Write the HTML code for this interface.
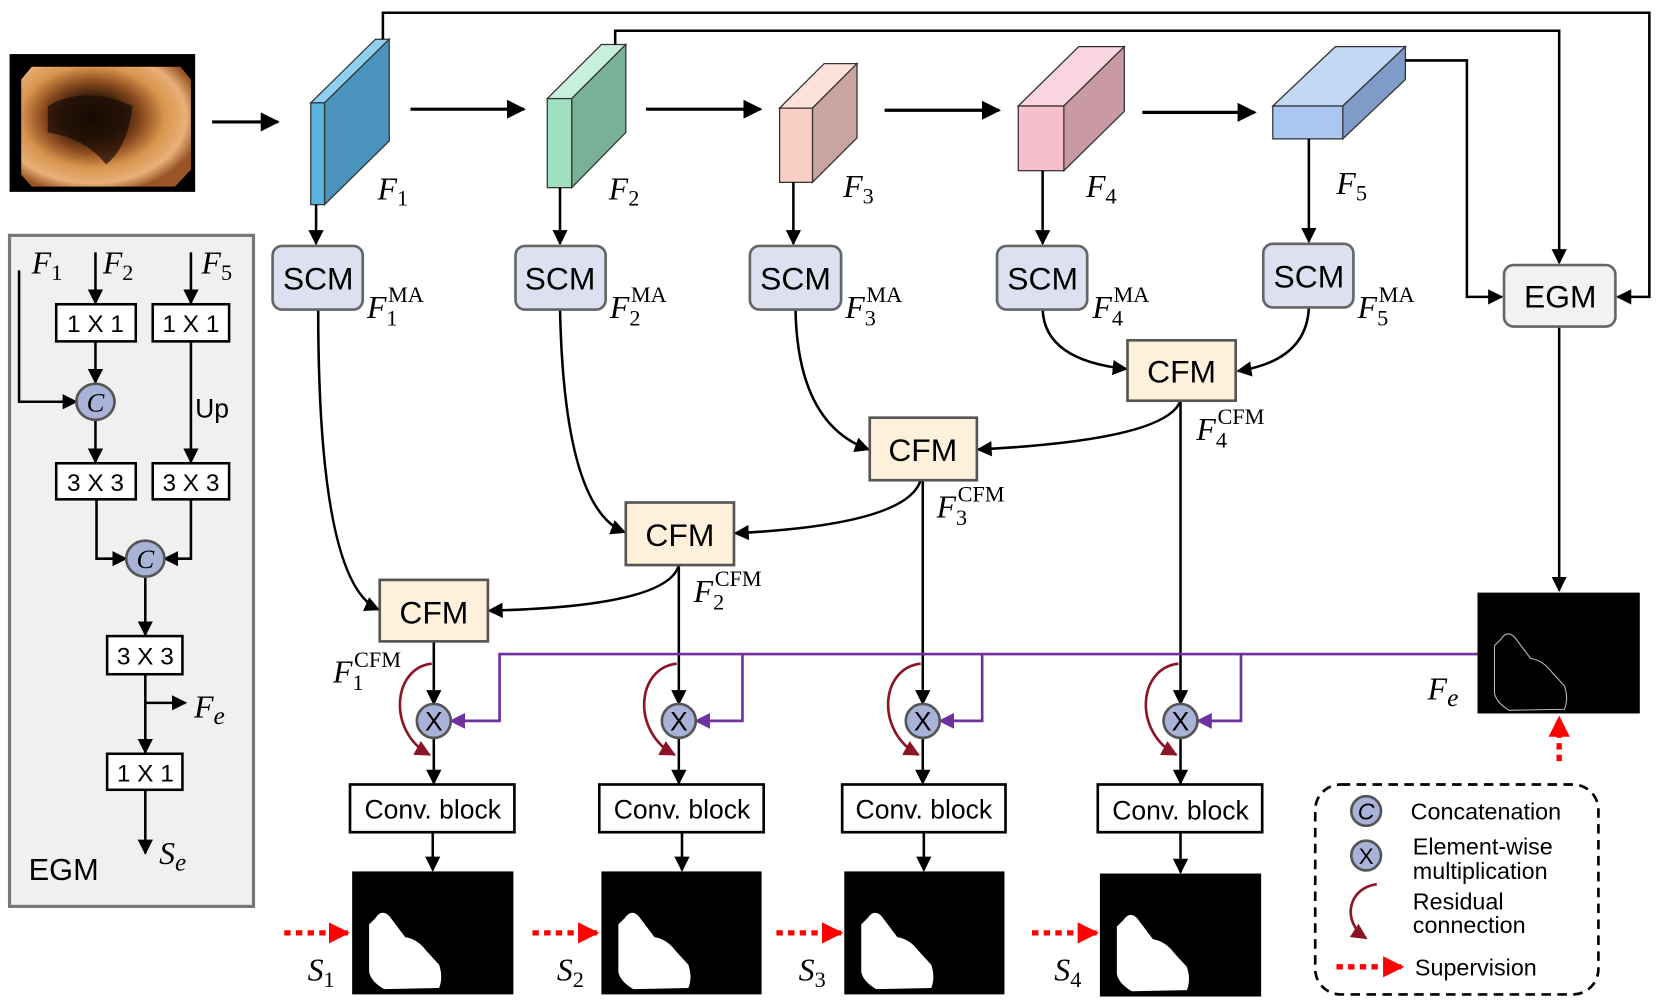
<!DOCTYPE html>
<html><head><meta charset="utf-8"><style>html,body{margin:0;padding:0;background:#fff}svg{display:block}</style></head>
<body>
<svg width="1661" height="1005" viewBox="0 0 1566 948" preserveAspectRatio="none" xmlns="http://www.w3.org/2000/svg" font-family="Liberation Sans, sans-serif">
<defs>
<marker id="a" viewBox="0 0 10 10" refX="9" refY="5" markerWidth="6" markerHeight="6" orient="auto"><path d="M0,0L10,5L0,10z" fill="#000"/></marker>
<marker id="p" viewBox="0 0 10 10" refX="9" refY="5" markerWidth="6" markerHeight="6" orient="auto"><path d="M0,0L10,5L0,10z" fill="#7030a0"/></marker>
<marker id="r" viewBox="0 0 10 10" refX="9" refY="5" markerWidth="6" markerHeight="6" orient="auto"><path d="M0,0L10,5L0,10z" fill="#8b1527"/></marker>
<marker id="s" viewBox="0 0 10 10" refX="9" refY="5" markerWidth="4" markerHeight="4" orient="auto"><path d="M0,0L10,5L0,10z" fill="#f00"/></marker>
<radialGradient id="ph" cx="0.42" cy="0.42" r="0.65"><stop offset="0" stop-color="#120803"/><stop offset="0.28" stop-color="#3a200c"/><stop offset="0.45" stop-color="#8a4a1e"/><stop offset="0.65" stop-color="#d8944e"/><stop offset="0.85" stop-color="#e8b078"/><stop offset="1" stop-color="#9a5426"/></radialGradient>
<path id="blob" d="M22,44 Q28,35 35,42 L50,62 Q62,64 70,75 L82,88 Q86,100 82,110 L30,111 Q18,104 16,95 L16,50 Z"/>
</defs>

<!-- photo -->
<rect x="9" y="51" width="175" height="130" fill="#000"/>
<path d="M30,63 L170,63 L180,75 L180,160 L165,176 L30,176 L20,165 L20,75 Z" fill="url(#ph)"/>
<path d="M45,100 Q80,80 125,100 Q120,140 100,155 Q80,130 45,125 Z" fill="#1a0c04" opacity="0.7"/>
<path d="M200,115 L262,115" stroke="#000" stroke-width="3" marker-end="url(#a)"/>

<!-- blocks -->
<g stroke="#333" stroke-width="1.2">
<polygon points="293,97 354,37 367,37 306,97" fill="#8fd0f0"/>
<polygon points="306,97 367,37 367,133 306,193" fill="#4a93bc"/>
<rect x="293" y="97" width="13" height="96" fill="#5ab4e2"/>
<polygon points="516,93 567,42 590,42 539,93" fill="#c8f0dc"/>
<polygon points="539,93 590,42 590,125 539,177" fill="#78b098"/>
<rect x="516" y="93" width="23" height="84" fill="#9ee0c0"/>
<polygon points="735,102 777,60 808,60 766,102" fill="#fde2da"/>
<polygon points="766,102 808,60 808,130 766,172" fill="#c9a5a0"/>
<rect x="735" y="102" width="31" height="70" fill="#f8cfc5"/>
<polygon points="960,100 1017,44 1060,44 1003,100" fill="#fad4de"/>
<polygon points="1003,100 1060,44 1060,105 1003,161" fill="#c99aa5"/>
<rect x="960" y="100" width="43" height="61" fill="#f5c0cc"/>
<polygon points="1200,100 1259,44 1325,44 1266,100" fill="#c2d8f5"/>
<polygon points="1266,100 1325,44 1325,75 1266,131" fill="#7f9cc8"/>
<rect x="1200" y="100" width="66" height="31" fill="#a9c7f0"/>
</g>
<g stroke="#000" stroke-width="3" fill="none">
<path d="M387,103L494,103" marker-end="url(#a)"/>
<path d="M609,103L717,103" marker-end="url(#a)"/>
<path d="M834,104L942,104" marker-end="url(#a)"/>
<path d="M1077,106L1183,106" marker-end="url(#a)"/>
</g>
<g stroke="#000" stroke-width="2.4" fill="none">
<path d="M361,37L361,12L1555,12L1555,280L1525,280" marker-end="url(#a)"/>
<path d="M580,42L580,29L1470,29L1470,248" marker-end="url(#a)"/>
<path d="M1325,57L1383,57L1383,280L1416,280" marker-end="url(#a)"/>
<path d="M298,193L298,230" marker-end="url(#a)"/>
<path d="M528,177L528,230" marker-end="url(#a)"/>
<path d="M748,172L748,230" marker-end="url(#a)"/>
<path d="M983,161L983,230" marker-end="url(#a)"/>
<path d="M1234,131L1234,228" marker-end="url(#a)"/>
<path d="M1470,308L1470,557" marker-end="url(#a)"/>
<path d="M983,292 Q985,340 1062,348" marker-end="url(#a)"/>
<path d="M1234,290 Q1232,340 1167,350" marker-end="url(#a)"/>
<path d="M750,292 Q752,400 819,424" marker-end="url(#a)"/>
<path d="M1113,378 Q1100,415 922,424" marker-end="url(#a)"/>
<path d="M528,292 Q532,480 589,502" marker-end="url(#a)"/>
<path d="M868,453 Q855,495 693,503" marker-end="url(#a)"/>
<path d="M300,292 Q300,550 357,575" marker-end="url(#a)"/>
<path d="M640,533 Q630,572 461,576" marker-end="url(#a)"/>
<path d="M409,605L409,664" marker-end="url(#a)"/>
<path d="M640,533L640,664" marker-end="url(#a)"/>
<path d="M870,453L870,664" marker-end="url(#a)"/>
<path d="M1113,378L1113,664" marker-end="url(#a)"/>
<path d="M409,694L409,739" marker-end="url(#a)"/>
<path d="M640,694L640,739" marker-end="url(#a)"/>
<path d="M870,694L870,739" marker-end="url(#a)"/>
<path d="M1113,694L1113,739" marker-end="url(#a)"/>
<path d="M408,785L408,821" marker-end="url(#a)"/>
<path d="M643,785L643,821" marker-end="url(#a)"/>
<path d="M871,785L871,821" marker-end="url(#a)"/>
<path d="M1113,785L1113,823" marker-end="url(#a)"/>
</g>
<!-- purple -->
<g stroke="#7030a0" stroke-width="2.5" fill="none">
<path d="M1393,617L471,617L471,680L425,680" marker-end="url(#p)"/>
<path d="M700,617L700,680L656,680" marker-end="url(#p)"/>
<path d="M926,617L926,680L886,680" marker-end="url(#p)"/>
<path d="M1170,617L1170,680L1129,680" marker-end="url(#p)"/>
</g>
<!-- residual -->
<g stroke="#8b1527" stroke-width="2.5" fill="none">
<path d="M407,626 C370,630 365,690 405,712" marker-end="url(#r)"/>
<path d="M638,626 C600,630 595,690 636,712" marker-end="url(#r)"/>
<path d="M868,626 C830,630 825,690 866,712" marker-end="url(#r)"/>
<path d="M1111,626 C1073,630 1068,690 1109,712" marker-end="url(#r)"/>
</g>
<g fill="#a9b3d8" stroke="#555" stroke-width="2.5">
<circle cx="409" cy="680" r="16"/><circle cx="640" cy="680" r="16"/><circle cx="870" cy="680" r="16"/><circle cx="1113" cy="680" r="16"/>
</g>
<g font-size="25" text-anchor="middle">
<text x="409" y="689">X</text><text x="640" y="689">X</text><text x="870" y="689">X</text><text x="1113" y="689">X</text>
</g>

<!-- SCM -->
<g fill="#dde0f0" stroke="#666" stroke-width="2.5">
<rect x="257" y="232" width="85" height="60" rx="9"/>
<rect x="486" y="232" width="85" height="60" rx="9"/>
<rect x="707" y="232" width="86" height="60" rx="9"/>
<rect x="940" y="232" width="85" height="60" rx="9"/>
<rect x="1191" y="230" width="85" height="60" rx="9"/>
</g>
<rect x="1418" y="250" width="105" height="58" rx="9" fill="#f2f2f2" stroke="#666" stroke-width="2.5"/>
<g font-size="30" text-anchor="middle">
<text x="300" y="273">SCM</text><text x="528" y="273">SCM</text><text x="750" y="273">SCM</text><text x="983" y="273">SCM</text><text x="1234" y="271">SCM</text><text x="1471" y="290">EGM</text>
</g>
<g fill="#fff0dc" stroke="#555" stroke-width="2.5">
<rect x="1063" y="321" width="102" height="57"/>
<rect x="820" y="394" width="101" height="59"/>
<rect x="590" y="474" width="102" height="59"/>
<rect x="358" y="547" width="102" height="58"/>
</g>
<g font-size="30" text-anchor="middle">
<text x="1114" y="361">CFM</text><text x="870" y="435">CFM</text><text x="641" y="515">CFM</text><text x="409" y="588">CFM</text>
</g>
<g fill="#fff" stroke="#000" stroke-width="2.5">
<rect x="330" y="740" width="155" height="45"/><rect x="565" y="740" width="155" height="45"/><rect x="794" y="740" width="154" height="45"/><rect x="1035" y="740" width="155" height="45"/>
</g>
<g font-size="25" text-anchor="middle">
<text x="408" y="772">Conv. block</text><text x="643" y="772">Conv. block</text><text x="871" y="772">Conv. block</text><text x="1113" y="773">Conv. block</text>
</g>
<g><rect x="332" y="822" width="152" height="116"/><use href="#blob" x="332" y="822" fill="#fff"/>
<rect x="567" y="822" width="151" height="116"/><use href="#blob" x="567" y="822" fill="#fff"/>
<rect x="796" y="822" width="151" height="116"/><use href="#blob" x="796" y="822" fill="#fff"/>
<rect x="1037" y="824" width="152" height="116"/><use href="#blob" x="1037" y="824" fill="#fff"/>
<rect x="1393" y="559" width="153" height="114"/><use href="#blob" x="1393" y="559" fill="none" stroke="#bbb" stroke-width="1"/></g>
<g stroke="#f00" stroke-width="5" stroke-dasharray="6,5" fill="none">
<path d="M268,880L328,880" marker-end="url(#s)"/>
<path d="M502,880L563,880" marker-end="url(#s)"/>
<path d="M732,880L793,880" marker-end="url(#s)"/>
<path d="M973,880L1034,880" marker-end="url(#s)"/>
<path d="M1470,718L1470,677" marker-end="url(#s)"/>
<path d="M1260,912L1322,912" marker-end="url(#s)"/>
</g>
<g font-family="Liberation Serif, serif" font-size="30" font-style="italic">
<text x="356" y="188">F<tspan font-size="21" font-style="normal" dy="6">1</tspan></text>
<text x="574" y="188">F<tspan font-size="21" font-style="normal" dy="6">2</tspan></text>
<text x="795" y="186">F<tspan font-size="21" font-style="normal" dy="6">3</tspan></text>
<text x="1024" y="186">F<tspan font-size="21" font-style="normal" dy="6">4</tspan></text>
<text x="1260" y="183">F<tspan font-size="21" font-style="normal" dy="6">5</tspan></text>
<text x="346" y="300">F<tspan font-size="21" font-style="normal" dy="7">1</tspan><tspan font-size="21" font-style="normal" dy="-22" dx="-9">MA</tspan></text>
<text x="575" y="300">F<tspan font-size="21" font-style="normal" dy="7">2</tspan><tspan font-size="21" font-style="normal" dy="-22" dx="-9">MA</tspan></text>
<text x="797" y="300">F<tspan font-size="21" font-style="normal" dy="7">3</tspan><tspan font-size="21" font-style="normal" dy="-22" dx="-9">MA</tspan></text>
<text x="1030" y="300">F<tspan font-size="21" font-style="normal" dy="7">4</tspan><tspan font-size="21" font-style="normal" dy="-22" dx="-9">MA</tspan></text>
<text x="1280" y="300">F<tspan font-size="21" font-style="normal" dy="7">5</tspan><tspan font-size="21" font-style="normal" dy="-22" dx="-9">MA</tspan></text>
<text x="1128" y="415">F<tspan font-size="21" font-style="normal" dy="7">4</tspan><tspan font-size="21" font-style="normal" dy="-22" dx="-9">CFM</tspan></text>
<text x="883" y="488">F<tspan font-size="21" font-style="normal" dy="7">3</tspan><tspan font-size="21" font-style="normal" dy="-22" dx="-9">CFM</tspan></text>
<text x="654" y="568">F<tspan font-size="21" font-style="normal" dy="7">2</tspan><tspan font-size="21" font-style="normal" dy="-22" dx="-9">CFM</tspan></text>
<text x="314" y="644">F<tspan font-size="21" font-style="normal" dy="7">1</tspan><tspan font-size="21" font-style="normal" dy="-22" dx="-9">CFM</tspan></text>
<text x="1346" y="660">F<tspan font-size="24" dy="6">e</tspan></text>
<text x="290" y="925">S<tspan font-size="21" font-style="normal" dy="6">1</tspan></text>
<text x="525" y="925">S<tspan font-size="21" font-style="normal" dy="6">2</tspan></text>
<text x="753" y="925">S<tspan font-size="21" font-style="normal" dy="6">3</tspan></text>
<text x="994" y="925">S<tspan font-size="21" font-style="normal" dy="6">4</tspan></text>
</g>

<rect x="1240" y="740" width="267" height="198" rx="24" fill="none" stroke="#000" stroke-width="2.5" stroke-dasharray="9,6"/>
<circle cx="1288" cy="765" r="14" fill="#a9b3d8" stroke="#555" stroke-width="2.5"/>
<text x="1288" y="773" font-size="22" font-style="italic" text-anchor="middle">C</text>
<circle cx="1288" cy="807" r="14" fill="#a9b3d8" stroke="#555" stroke-width="2.5"/>
<text x="1288" y="815" font-size="21" text-anchor="middle">X</text>
<path d="M1298,834 C1270,838 1265,870 1288,885" stroke="#8b1527" stroke-width="2.5" fill="none" marker-end="url(#r)"/>
<g font-size="22">
<text x="1330" y="773">Concatenation</text>
<text x="1332" y="806">Element-wise</text>
<text x="1332" y="829">multiplication</text>
<text x="1332" y="858">Residual</text>
<text x="1332" y="880">connection</text>
<text x="1334" y="920">Supervision</text>
</g>

<rect x="9" y="222" width="230" height="633" fill="#f0f0f0" stroke="#777" stroke-width="3"/>
<g stroke="#000" stroke-width="2.4" fill="none">
<path d="M18,255L18,379L72,379" marker-end="url(#a)"/>
<path d="M90,238L90,286" marker-end="url(#a)"/>
<path d="M90,322L90,361" marker-end="url(#a)"/>
<path d="M90,397L90,436" marker-end="url(#a)"/>
<path d="M180,238L180,286" marker-end="url(#a)"/>
<path d="M180,322L180,436" marker-end="url(#a)"/>
<path d="M91,471L91,527L119,527" marker-end="url(#a)"/>
<path d="M180,471L180,527L155,527" marker-end="url(#a)"/>
<path d="M137,545L137,599" marker-end="url(#a)"/>
<path d="M137,636L137,710" marker-end="url(#a)"/>
<path d="M137,663L175,663" marker-end="url(#a)"/>
<path d="M137,745L137,805" marker-end="url(#a)"/>
</g>
<g fill="#fff" stroke="#000" stroke-width="2.4">
<rect x="53" y="287" width="75" height="35"/><rect x="144" y="287" width="72" height="35"/>
<rect x="53" y="437" width="75" height="34"/><rect x="144" y="437" width="72" height="34"/>
<rect x="101" y="600" width="71" height="36"/><rect x="101" y="711" width="71" height="34"/>
</g>
<ellipse cx="90" cy="379" rx="18" ry="17" fill="#a9b3d8" stroke="#555" stroke-width="2.5"/>
<ellipse cx="137" cy="527" rx="18" ry="17" fill="#a9b3d8" stroke="#555" stroke-width="2.5"/>
<g font-size="25" font-style="italic" text-anchor="middle" font-family="Liberation Serif, serif"><text x="90" y="388">C</text><text x="137" y="536">C</text></g>
<g font-size="23" text-anchor="middle">
<text x="90" y="313">1 X 1</text><text x="180" y="313">1 X 1</text>
<text x="90" y="463">3 X 3</text><text x="180" y="463">3 X 3</text>
<text x="137" y="627">3 X 3</text><text x="137" y="737">1 X 1</text>
</g>
<text x="184" y="394" font-size="25">Up</text>
<text x="27" y="830" font-size="29">EGM</text>
<g font-family="Liberation Serif, serif" font-size="30" font-style="italic">
<text x="30" y="258">F<tspan font-size="21" font-style="normal" dy="6">1</tspan></text>
<text x="97" y="258">F<tspan font-size="21" font-style="normal" dy="6">2</tspan></text>
<text x="190" y="258">F<tspan font-size="21" font-style="normal" dy="6">5</tspan></text>
<text x="183" y="677">F<tspan font-size="24" dy="6">e</tspan></text>
<text x="150" y="815">S<tspan font-size="24" dy="6">e</tspan></text>
</g>
</svg>
</body></html>
